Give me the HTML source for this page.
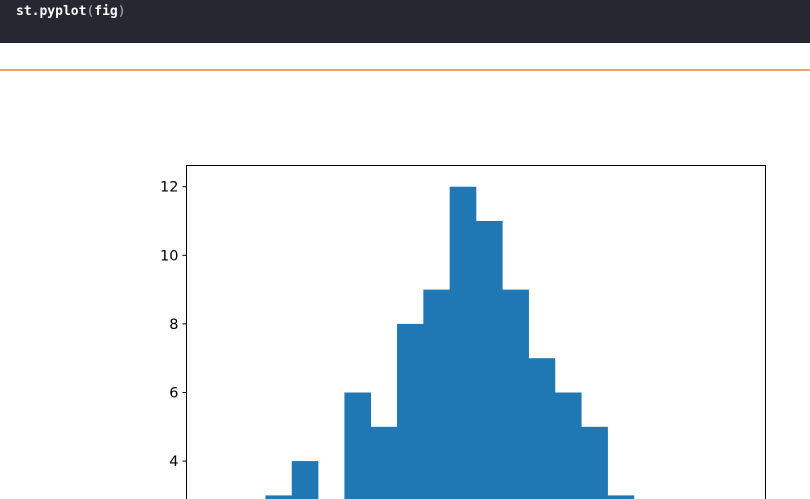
<!DOCTYPE html>
<html><head><meta charset="utf-8">
<style>
html,body{margin:0;padding:0;width:810px;height:499px;overflow:hidden;background:#fff;}
#code{position:absolute;left:0;top:0;width:810px;height:43px;background:#262730;}
#code span{position:absolute;left:16px;top:4px;font:13px "DejaVu Sans Mono","Liberation Mono",monospace;color:#fafafa;font-weight:bold;}
#rule{position:absolute;left:0;top:69px;width:810px;height:2px;background:#f4a06d;}
svg{position:absolute;left:0;top:0;}
text{font-family:"DejaVu Sans","Liberation Sans",sans-serif;font-size:14.5px;fill:#000;}
</style></head><body>
<div id="code"><span>st.pyplot<span style="position:static;color:#8a8fa0">(</span>fig<span style="position:static;color:#8a8fa0">)</span></span></div>
<div id="rule"></div>
<svg id="chart" width="810" height="499" viewBox="0 0 810 499" style="overflow:hidden"></svg>
<script>
const binCounts = [1, 2, 3, 4, 0, 6, 5, 8, 9, 12, 11, 9, 7, 6, 5, 3, 2, 1, 1, 1];
const yTicks = [0, 2, 4, 6, 8, 10, 12];
const yTickLabels = ["0", "2", "4", "6", "8", "10", "12"];

const NS = "http://www.w3.org/2000/svg";
const svg = document.getElementById("chart");
const axL = 186.5, axR = 765.5, axT = 165.5, H = 499;
const yZero = 186.7 + 12 * 34.3;
const yScale = v => yZero - v * 34.3;
const dataL = 212.8, dataR = 739.2;
const bw = (dataR - dataL) / binCounts.length;
const xScale = i => dataL + i * bw;

binCounts.forEach((c, i) => {
  if (c <= 0) return;
  const top = yScale(c);
  if (top >= H) return;
  const r = document.createElementNS(NS, "rect");
  r.setAttribute("x", xScale(i));
  r.setAttribute("y", top);
  r.setAttribute("width", bw + 0.3);
  r.setAttribute("height", H - top);
  r.setAttribute("fill", "#1f77b4");
  
  
  svg.appendChild(r);
});

const frame = document.createElementNS(NS, "path");
frame.setAttribute("d", `M${axL},${H} L${axL},${axT} L${axR},${axT} L${axR},${H}`);
frame.setAttribute("fill", "none"); frame.setAttribute("stroke", "#000"); frame.setAttribute("stroke-width", "1");


svg.appendChild(frame);

yTicks.forEach((t, i) => {
  const y = yScale(t);
  if (y > H) return;
  const l = document.createElementNS(NS, "line");
  l.setAttribute("x1", axL - 4); l.setAttribute("x2", axL);
  l.setAttribute("y1", y); l.setAttribute("y2", y);
  l.setAttribute("stroke", "#000");
  
  
  svg.appendChild(l);
  const tx = document.createElementNS(NS, "text");
  tx.setAttribute("x", axL - 8); tx.setAttribute("y", y + 5);
  tx.setAttribute("text-anchor", "end");
  tx.textContent = yTickLabels[i];
  
  
  svg.appendChild(tx);
});
</script>
</body></html>
